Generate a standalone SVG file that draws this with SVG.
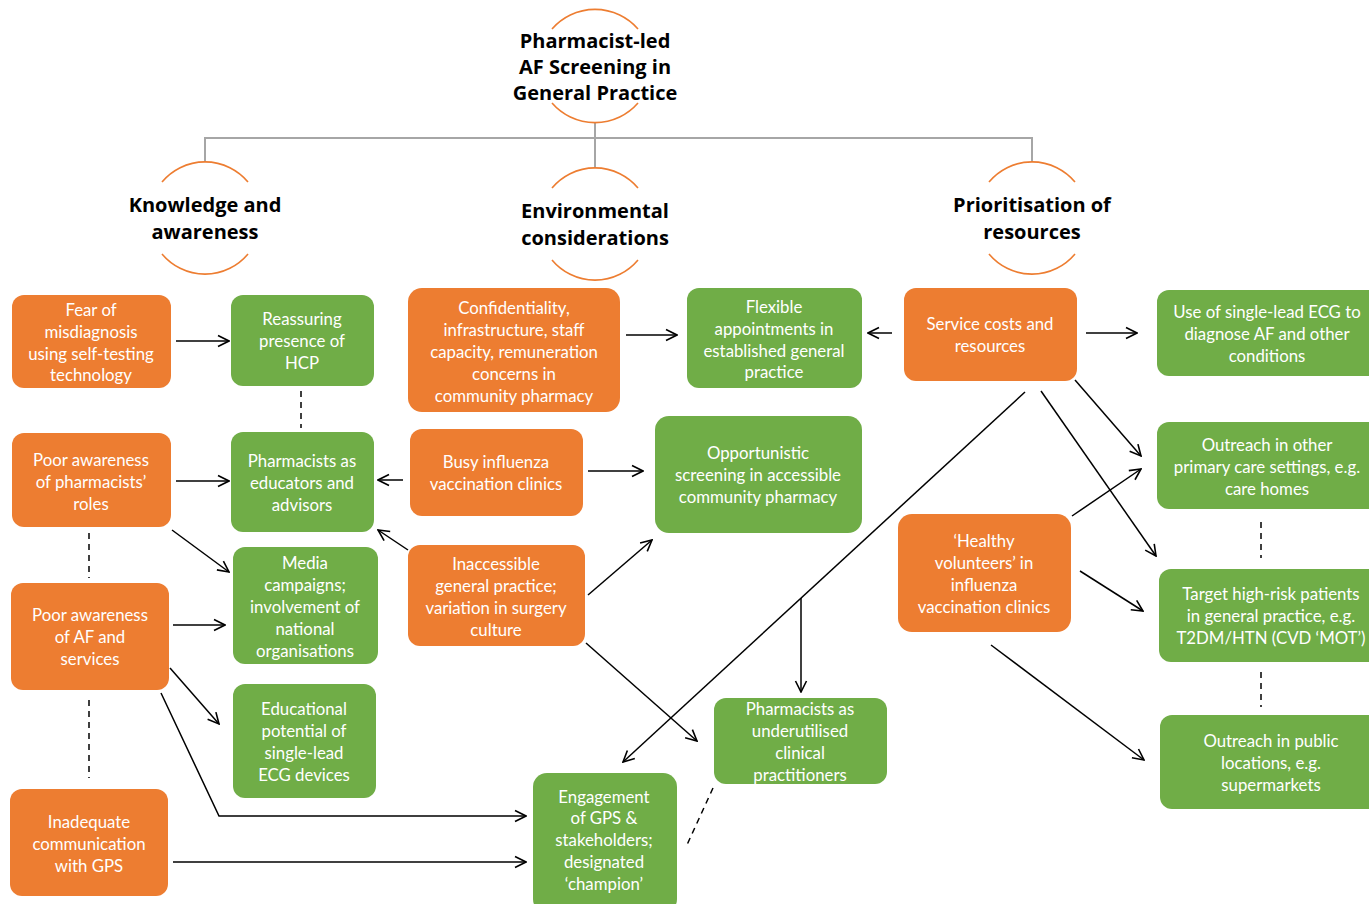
<svg xmlns="http://www.w3.org/2000/svg" width="1369" height="904" viewBox="0 0 1369 904">
  <defs>
    <marker id="arrow" markerUnits="userSpaceOnUse" markerWidth="14" markerHeight="14" viewBox="0 0 14 14" refX="13" refY="7" orient="auto">
      <path d="M2,1.5 L13,7 L2,12.5" fill="none" stroke="#000" stroke-width="1.6"/>
    </marker>
    <style>
      .bg { fill: #ffffff; }
      .orange { fill: #ED7D31; }
      .green { fill: #70AD47; }
      .box text { font-family: Lato, "Open Sans", "Liberation Sans", sans-serif; font-size: 16.8px; fill: #ffffff; text-anchor: middle; dominant-baseline: central; }
      .head text { font-family: "Open Sans", Lato, "Liberation Sans", sans-serif; font-weight: bold; font-size: 20px; fill: #000000; text-anchor: middle; dominant-baseline: central; }
      .arc { fill: none; stroke: #ED7D31; stroke-width: 1.6; }
      .tree { fill: none; stroke: #A6A6A6; stroke-width: 2; }
      .link { fill: none; stroke: #000000; stroke-width: 1.5; }
      .arr { marker-end: url(#arrow); }
      .dash { fill: none; stroke: #000000; stroke-width: 1.5; stroke-dasharray: 6 5; }
    </style>
  </defs>

  <rect class="bg" x="0" y="0" width="1369" height="904"/>

  <!-- hierarchy lines -->
  <g id="tree">
    <path class="tree" d="M595,123 V138 M205,162 V138 H1032 V162 M595,138 V168"/>
  </g>

  <!-- headings -->
  <g id="title" class="head">
    <path class="arc" d="M552,29 A57,57 0 0 1 638,29"/>
    <path class="arc" d="M552,103 A57,57 0 0 0 638,103"/>
    <text x="595" y="40">Pharmacist-led</text>
    <text x="595" y="66">AF Screening in</text>
    <text x="595" y="92">General Practice</text>
  </g>
  <g id="theme-knowledge" class="head">
    <path class="arc" d="M162,182 A56,56 0 0 1 248,182"/>
    <path class="arc" d="M162,254 A56,56 0 0 0 248,254"/>
    <text x="205" y="204">Knowledge and</text>
    <text x="205" y="231">awareness</text>
  </g>
  <g id="theme-environment" class="head">
    <path class="arc" d="M552,188 A56,56 0 0 1 638,188"/>
    <path class="arc" d="M552,260 A56,56 0 0 0 638,260"/>
    <text x="595" y="210">Environmental</text>
    <text x="595" y="237">considerations</text>
  </g>
  <g id="theme-resources" class="head">
    <path class="arc" d="M989,182 A56,56 0 0 1 1075,182"/>
    <path class="arc" d="M989,254 A56,56 0 0 0 1075,254"/>
    <text x="1032" y="204">Prioritisation of</text>
    <text x="1032" y="231">resources</text>
  </g>

  <!-- connectors -->
  <g id="connectors">
    <path class="link arr" d="M176,341 H229"/>
    <path class="dash" d="M301,391 V428"/>
    <path class="link arr" d="M176,481 H229"/>
    <path class="link arr" d="M172,530 L229,572"/>
    <path class="dash" d="M89,533 V578"/>
    <path class="link arr" d="M173,625 H225"/>
    <path class="link arr" d="M170,668 L219,724"/>
    <path class="link arr" d="M161,693 L219,816 H526"/>
    <path class="dash" d="M89,700 V778"/>
    <path class="link arr" d="M173,862 H526"/>
    <path class="link arr" d="M403,480 H378"/>
    <path class="link arr" d="M588,471 H643"/>
    <path class="link arr" d="M408,550 L378,530"/>
    <path class="link arr" d="M588,595 L652,540"/>
    <path class="link arr" d="M586,643 L697,741"/>
    <path class="link arr" d="M626,335 H677"/>
    <path class="link arr" d="M892,333 H868"/>
    <path class="link arr" d="M1086,333 H1137"/>
    <path class="link arr" d="M1075,380 L1141,456"/>
    <path class="link arr" d="M1041,391 L1156,556"/>
    <path class="link arr" d="M1025,392 L623,762"/>
    <path class="link arr" d="M801,598 V692"/>
    <path class="link arr" d="M1072,516 L1141,469"/>
    <path class="link arr" d="M1080,571 L1143,611"/>
    <path class="link arr" d="M991,645 L1144,760"/>
    <path class="dash" d="M1261,522 V558"/>
    <path class="dash" d="M1261,672 V707"/>
    <path class="dash" d="M713,788 L686,847"/>
  </g>

  <!-- knowledge and awareness -->
  <g id="fear-misdiagnosis" class="box">
    <rect class="orange" x="12" y="295" width="159" height="93" rx="12"/>
    <text x="91" y="309">Fear of</text>
    <text x="91" y="331">misdiagnosis</text>
    <text x="91" y="353">using self-testing</text>
    <text x="91" y="374">technology</text>
  </g>
  <g id="reassuring-hcp" class="box">
    <rect class="green" x="231" y="295" width="143" height="91" rx="12"/>
    <text x="302" y="318">Reassuring</text>
    <text x="302" y="340">presence of</text>
    <text x="302" y="362">HCP</text>
  </g>
  <g id="poor-awareness-roles" class="box">
    <rect class="orange" x="12" y="433" width="159" height="94" rx="12"/>
    <text x="91" y="459">Poor awareness</text>
    <text x="91" y="481">of pharmacists’</text>
    <text x="91" y="503">roles</text>
  </g>
  <g id="pharmacists-educators" class="box">
    <rect class="green" x="231" y="432" width="143" height="100" rx="12"/>
    <text x="302" y="460">Pharmacists as</text>
    <text x="302" y="482">educators and</text>
    <text x="302" y="504">advisors</text>
  </g>
  <g id="poor-awareness-af" class="box">
    <rect class="orange" x="11" y="583" width="158" height="107" rx="12"/>
    <text x="90" y="614">Poor awareness</text>
    <text x="90" y="636">of AF and</text>
    <text x="90" y="658">services</text>
  </g>
  <g id="media-campaigns" class="box">
    <rect class="green" x="233" y="547" width="145" height="117" rx="12"/>
    <text x="305" y="562">Media</text>
    <text x="305" y="584">campaigns;</text>
    <text x="305" y="606">involvement of</text>
    <text x="305" y="628">national</text>
    <text x="305" y="650">organisations</text>
  </g>
  <g id="educational-potential" class="box">
    <rect class="green" x="233" y="684" width="143" height="114" rx="12"/>
    <text x="304" y="708">Educational</text>
    <text x="304" y="730">potential of</text>
    <text x="304" y="752">single-lead</text>
    <text x="304" y="774">ECG devices</text>
  </g>
  <g id="inadequate-communication" class="box">
    <rect class="orange" x="10" y="789" width="158" height="107" rx="12"/>
    <text x="89" y="821">Inadequate</text>
    <text x="89" y="843">communication</text>
    <text x="89" y="865">with GPS</text>
  </g>

  <!-- environmental considerations -->
  <g id="confidentiality" class="box">
    <rect class="orange" x="408" y="288" width="212" height="124" rx="14"/>
    <text x="514" y="307">Confidentiality,</text>
    <text x="514" y="329">infrastructure, staff</text>
    <text x="514" y="351">capacity, remuneration</text>
    <text x="514" y="373">concerns in</text>
    <text x="514" y="395">community pharmacy</text>
  </g>
  <g id="busy-influenza" class="box">
    <rect class="orange" x="410" y="429" width="173" height="87" rx="12"/>
    <text x="496" y="461">Busy influenza</text>
    <text x="496" y="483">vaccination clinics</text>
  </g>
  <g id="inaccessible-practice" class="box">
    <rect class="orange" x="408" y="545" width="177" height="101" rx="12"/>
    <text x="496" y="563">Inaccessible</text>
    <text x="496" y="585">general practice;</text>
    <text x="496" y="607">variation in surgery</text>
    <text x="496" y="629">culture</text>
  </g>
  <g id="flexible-appointments" class="box">
    <rect class="green" x="687" y="288" width="175" height="100" rx="12"/>
    <text x="774" y="306">Flexible</text>
    <text x="774" y="328">appointments in</text>
    <text x="774" y="350">established general</text>
    <text x="774" y="371">practice</text>
  </g>
  <g id="opportunistic-screening" class="box">
    <rect class="green" x="655" y="416" width="207" height="117" rx="14"/>
    <text x="758" y="452">Opportunistic</text>
    <text x="758" y="474">screening in accessible</text>
    <text x="758" y="496">community pharmacy</text>
  </g>
  <g id="underutilised-practitioners" class="box">
    <rect class="green" x="714" y="698" width="173" height="86" rx="12"/>
    <text x="800" y="708">Pharmacists as</text>
    <text x="800" y="730">underutilised</text>
    <text x="800" y="752">clinical</text>
    <text x="800" y="774">practitioners</text>
  </g>
  <g id="engagement-gps" class="box">
    <rect class="green" x="533" y="773" width="144" height="140" rx="14"/>
    <text x="604" y="796">Engagement</text>
    <text x="604" y="817">of GPS &amp;</text>
    <text x="604" y="839">stakeholders;</text>
    <text x="604" y="861">designated</text>
    <text x="604" y="883">‘champion’</text>
  </g>

  <!-- prioritisation of resources -->
  <g id="service-costs" class="box">
    <rect class="orange" x="904" y="288" width="173" height="93" rx="12"/>
    <text x="990" y="323">Service costs and</text>
    <text x="990" y="345">resources</text>
  </g>
  <g id="healthy-volunteers" class="box">
    <rect class="orange" x="898" y="514" width="173" height="118" rx="14"/>
    <text x="984" y="540">‘Healthy</text>
    <text x="984" y="562">volunteers’ in</text>
    <text x="984" y="584">influenza</text>
    <text x="984" y="606">vaccination clinics</text>
  </g>
  <g id="single-lead-ecg" class="box">
    <rect class="green" x="1157" y="290" width="230" height="86" rx="12"/>
    <text x="1267" y="311">Use of single-lead ECG to</text>
    <text x="1267" y="333">diagnose AF and other</text>
    <text x="1267" y="355">conditions</text>
  </g>
  <g id="outreach-primary-care" class="box">
    <rect class="green" x="1157" y="422" width="230" height="87" rx="12"/>
    <text x="1267" y="444">Outreach in other</text>
    <text x="1267" y="466">primary care settings, e.g.</text>
    <text x="1267" y="488">care homes</text>
  </g>
  <g id="target-high-risk" class="box">
    <rect class="green" x="1159" y="569" width="230" height="93" rx="12"/>
    <text x="1271" y="593">Target high-risk patients</text>
    <text x="1271" y="615">in general practice, e.g.</text>
    <text x="1271" y="637">T2DM/HTN (CVD ‘MOT’)</text>
  </g>
  <g id="outreach-public" class="box">
    <rect class="green" x="1160" y="715" width="230" height="94" rx="12"/>
    <text x="1271" y="740">Outreach in public</text>
    <text x="1271" y="762">locations, e.g.</text>
    <text x="1271" y="784">supermarkets</text>
  </g>
</svg>
